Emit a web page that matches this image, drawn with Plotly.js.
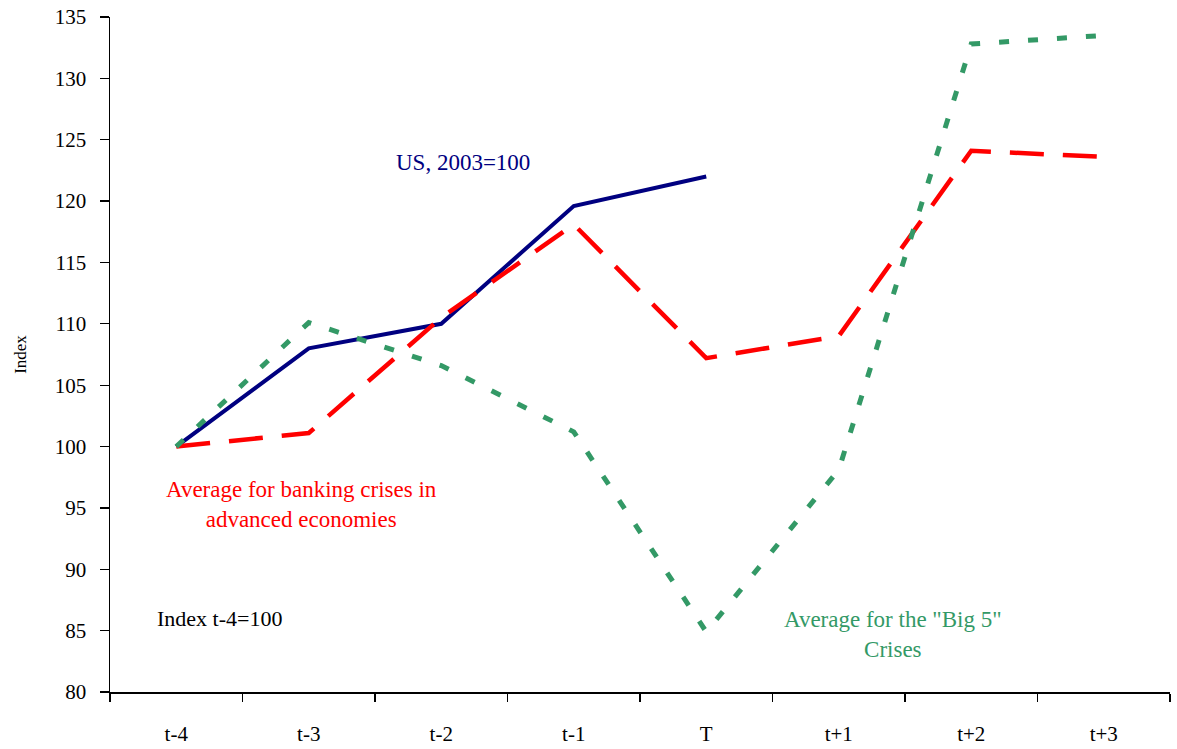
<!DOCTYPE html>
<html>
<head>
<meta charset="utf-8">
<script src="https://cdn.plot.ly/plotly-3.0.1.min.js"></script>
<style>
html,body{margin:0;padding:0;background:#fff;}
#chart{width:1177px;height:749px;}
</style>
</head>
<body>
<div id="chart"></div>
<script>
var periods = ["t-4","t-3","t-2","t-1","T","t+1","t+2","t+3"];
var usValues = [100, 108, 110, 119.6, 122];
var advancedValues = [100, 101.1, 110.5, 118.1, 107.2, 109, 124.1, 123.6];
var big5Values = [100, 110.1, 106.6, 101.2, 84.9, 98.1, 132.8, 133.5];

var serif = "Liberation Serif, Times New Roman, serif";

var traces = [
  {
    x: periods.slice(0, usValues.length), y: usValues, type: "scatter", mode: "lines",
    name: "US, 2003=100",
    line: {color: "#000080", width: 4}
  },
  {
    x: periods, y: advancedValues, type: "scatter", mode: "lines",
    name: "Average for banking crises in advanced economies",
    line: {color: "#FF0000", width: 4.5, dash: "34px,19px"}
  },
  {
    x: periods, y: big5Values, type: "scatter", mode: "lines",
    name: "Average for the \"Big 5\" Crises",
    line: {color: "#339966", width: 5, dash: "10px,19px"}
  }
];

var layout = {
  width: 1177, height: 749,
  margin: {l: 110, r: 7, t: 17, b: 57},
  paper_bgcolor: "#fff", plot_bgcolor: "#fff",
  showlegend: false,
  font: {family: serif, color: "#000"},
  xaxis: {
    type: "category",
    categoryorder: "array", categoryarray: periods,
    range: [-0.5, 7.5],
    showgrid: false, zeroline: false,
    showline: true, linecolor: "#000", linewidth: 1.5,
    ticks: "outside", tickson: "boundaries", ticklen: 8, tickcolor: "#000", tickwidth: 1.2,
    tickfont: {family: serif, size: 21, color: "#000"},
    ticklabelstandoff: 22
  },
  yaxis: {
    range: [80, 135], dtick: 5, tick0: 80,
    showgrid: false, zeroline: false,
    showline: true, linecolor: "#000", linewidth: 1.5,
    ticks: "outside", ticklen: 9, tickcolor: "#000", tickwidth: 1.2,
    tickfont: {family: serif, size: 21, color: "#000"},
    ticklabelstandoff: 9,
    title: {text: "Index", font: {family: serif, size: 17, color: "#000"}, standoff: 24}
  },
  annotations: [
    {text: "US, 2003=100", xref: "paper", yref: "paper", x: 0.333, y: 0.784,
     xanchor: "center", yanchor: "middle", showarrow: false,
     font: {family: serif, size: 23, color: "#000080"}},
    {text: "Average for banking crises in<br>advanced economies", xref: "paper", yref: "paper",
     x: 0.181, y: 0.2785, xanchor: "center", yanchor: "middle", showarrow: false, align: "center",
     font: {family: serif, size: 23, color: "#FF0000"}},
    {text: "Index t-4=100", xref: "paper", yref: "paper", x: 0.0425, y: 0.1096,
     xanchor: "left", yanchor: "middle", showarrow: false,
     font: {family: serif, size: 22, color: "#000"}},
    {text: "Average for the \"Big 5\"<br>Crises", xref: "paper", yref: "paper",
     x: 0.7387, y: 0.0859, xanchor: "center", yanchor: "middle", showarrow: false, align: "center",
     font: {family: serif, size: 23, color: "#339966"}}
  ]
};

Plotly.newPlot("chart", traces, layout, {displayModeBar: false, staticPlot: true});
</script>
</body>
</html>
